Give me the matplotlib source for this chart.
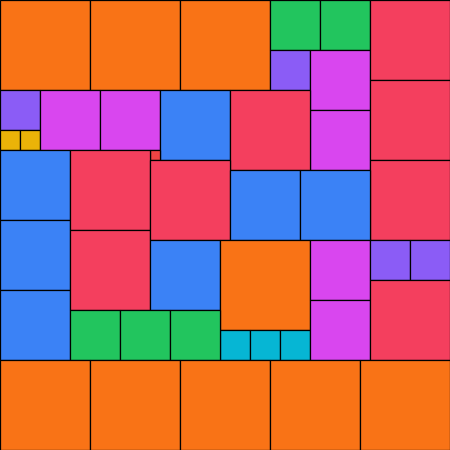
import matplotlib
matplotlib.use("Agg")
import matplotlib.pyplot as plt
from matplotlib.patches import Rectangle

# 각 타일: 그룹, 왼쪽, 위, 오른쪽, 아래 (픽셀 단위 좌표계)
groups = ["orange", "orange", "orange", "green", "green", "purple",
          "magenta", "magenta", "red", "red", "red",
          "purple", "yellow", "yellow", "magenta", "magenta",
          "blue", "red", "red_small",
          "blue", "blue", "blue", "red", "red", "red",
          "blue", "blue", "blue", "orange",
          "cyan", "cyan", "cyan", "green", "green", "green",
          "magenta", "magenta", "purple", "purple", "red",
          "orange", "orange", "orange", "orange", "orange"]
x0 = [0, 90, 180, 270, 320, 270, 310, 310, 370, 370, 370,
      0, 0, 20, 40, 100, 160, 230, 150,
      0, 0, 0, 70, 70, 150, 230, 300, 150, 220,
      220, 250, 280, 70, 120, 170, 310, 310, 370, 410, 370,
      0, 90, 180, 270, 360]
y0 = [0, 0, 0, 0, 0, 50, 50, 110, 0, 80, 160,
      90, 130, 130, 90, 90, 90, 90, 150,
      150, 220, 290, 150, 230, 160, 170, 170, 240, 240,
      330, 330, 330, 310, 310, 310, 240, 300, 240, 240, 280,
      360, 360, 360, 360, 360]
x1 = [90, 180, 270, 320, 370, 310, 370, 370, 450, 450, 450,
      40, 20, 40, 100, 160, 230, 310, 160,
      70, 70, 70, 150, 150, 230, 300, 370, 220, 310,
      250, 280, 310, 120, 170, 220, 370, 370, 410, 450, 450,
      90, 180, 270, 360, 450]
y1 = [90, 90, 90, 50, 50, 90, 110, 170, 80, 160, 240,
      130, 150, 150, 150, 150, 160, 170, 160,
      220, 290, 360, 230, 310, 240, 240, 240, 310, 330,
      360, 360, 360, 360, 360, 360, 300, 360, 280, 280, 360,
      450, 450, 450, 450, 450]

colors = {
    "orange": "#F97316", "green": "#22C55E", "purple": "#8B5CF6",
    "magenta": "#D946EF", "red": "#F43F5E", "red_small": "#EF4444",
    "blue": "#3B82F6", "yellow": "#EAB308", "cyan": "#06B6D4",
}

fig = plt.figure(figsize=(4.5, 4.5), dpi=100)
ax = fig.add_axes([0, 0, 1, 1])

for g, a, b, c, d in zip(groups, x0, y0, x1, y1):
    ax.add_patch(Rectangle((a, b), c - a, d - b, facecolor=colors[g],
                           edgecolor="black", linewidth=0.9))

ax.set_xlim(0, 450)
ax.set_ylim(450, 0)
ax.axis("off")

fig.savefig("out.png", dpi=100)
